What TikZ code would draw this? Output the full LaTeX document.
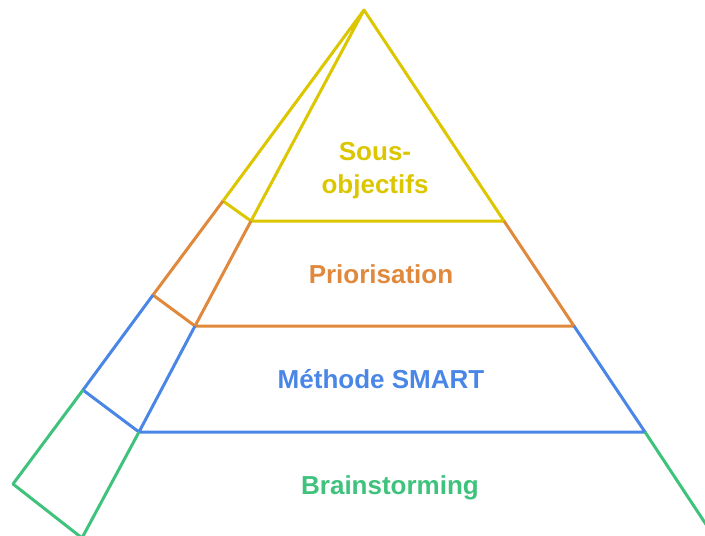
\documentclass[tikz,border=0pt]{standalone}
\usepackage{fontspec}
\setmainfont{Liberation Sans}
\usetikzlibrary{positioning}
\definecolor{sousyellow}{HTML}{DCC600}
\definecolor{priorange}{HTML}{E0883C}
\definecolor{smartblue}{HTML}{4A86E6}
\definecolor{braingreen}{HTML}{3EC27C}

\begin{document}
\begin{tikzpicture}[x=1pt, y=-1pt, line width=3pt, line join=round,
                level label/.style={font=\fontsize{26}{33}\selectfont\bfseries, align=center, anchor=base}]

  \useasboundingbox (0,0) rectangle (705,536);
  \clip (0,0) rectangle (705,536);

  % corners of the pyramid
  \coordinate (apex) at (364,10);
  \coordinate (b1) at (223,201);
  \coordinate (b2) at (153,295);
  \coordinate (b3) at (83,390);
  \coordinate (b4) at (13,484);
  \coordinate (f1) at (251,221);
  \coordinate (f2) at (195,326);
  \coordinate (f3) at (139,432);
  \coordinate (f4) at (82,538);
  \coordinate (r1) at (504,221);
  \coordinate (r2) at (574,326);
  \coordinate (r3) at (645,432);
  \coordinate (r4) at (715,538);

  % levels
  \draw[sousyellow] (apex) -- (b1) -- (f1) -- (apex) -- (r1) -- (f1);
  \draw[priorange] (b1) -- (b2) -- (f2) -- (f1) (f2) -- (r2) -- (r1);
  \draw[smartblue] (b2) -- (b3) -- (f3) -- (f2) (f3) -- (r3) -- (r2);
  \draw[braingreen] (b3) -- (b4) -- (f4) -- (f3) (r3) -- (r4);

  % labels
  \node[level label, text=sousyellow, anchor=center] (sous) at (375,171) {Sous-\\objectifs};
  \node[level label, text=priorange] (prio) at (381,283) {Priorisation};
  \node[level label, text=smartblue] (smart) at (381,388) {Méthode SMART};
  \node[level label, text=braingreen] (brain) at (390,494) {Brainstorming};
\end{tikzpicture}
\end{document}
